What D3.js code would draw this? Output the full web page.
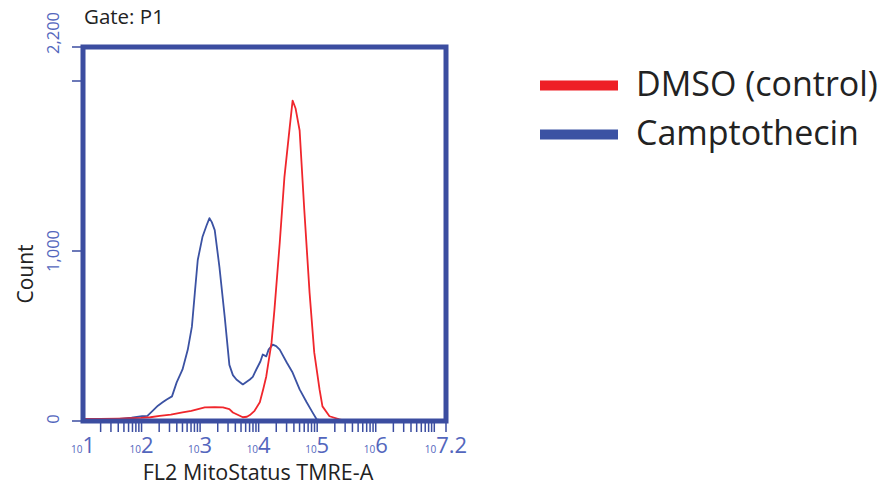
<!DOCTYPE html>
<html><head><meta charset="utf-8">
<script src="https://cdn.jsdelivr.net/npm/d3@7"></script>
<style>body{margin:0;background:#fff}svg{display:block}text{font-family:"Open Sans",sans-serif}</style>
</head><body>
<svg id="c" width="885" height="486"></svg>
<script>
// log10(FL2 MitoStatus TMRE-A) bin positions and counts
const dmsoLog = [1.00,1.29,1.60,1.99,2.15,2.31,2.50,2.70,2.85,3.08,3.25,3.39,3.50,3.56,3.65,3.73,3.80,3.85,3.93,4.02,4.08,4.13,4.22,4.27,4.36,4.44,4.53,4.58,4.63,4.70,4.78,4.87,4.95,5.04,5.09,5.21,5.38,5.45];
const dmsoCount = [12,12,14,18,22,30,38,51,60,80,82,80,70,50,35,22,25,35,60,110,190,262,461,655,1047,1433,1726,1885,1840,1709,1240,754,402,186,86,28,10,4];
const campLog = [1.00,1.50,1.83,2.01,2.10,2.18,2.28,2.36,2.43,2.52,2.60,2.70,2.79,2.86,2.91,2.96,3.04,3.11,3.16,3.20,3.25,3.33,3.42,3.50,3.56,3.62,3.73,3.85,3.90,3.96,4.03,4.07,4.13,4.17,4.24,4.30,4.36,4.48,4.58,4.70,4.82,4.92,4.99,5.12];
const campCount = [5,8,20,28,30,57,90,110,127,145,227,303,420,555,754,947,1082,1150,1193,1170,1123,907,614,330,270,244,215,244,260,303,350,391,380,420,449,440,420,344,285,186,110,51,10,0];
const yTicks = [0,1000,2000,2200];
const yLabels = [0,1000,2200];
const xDecades = [1,2,3,4,5,6];
const xEndExp = 7.2;
const seriesNames = ["DMSO (control)","Camptothecin"];
const seriesColors = ["#ee1f25","#3b52a3"];

const svg = d3.select("#c");
const L=83,R=446,T=47,B=421;
const x = d3.scaleLog().domain([10, Math.pow(10,xEndExp)]).range([L,R]);
const y = d3.scaleLinear().domain([0,2200]).range([B,T]);
const axisCol="#3b4da0", labCol="#5366bd";

// Gate label
svg.append("text").attr("x",84).attr("y",24).attr("font-size",20.5).attr("fill","#222").text("Gate: P1");

// curves
const line = d3.line().x(d=>x(Math.pow(10,d[0]))).y(d=>y(d[1]));
svg.append("clipPath").attr("id","cl").append("rect").attr("x",L).attr("y",T).attr("width",R-L).attr("height",B-T);
const g = svg.append("g").attr("clip-path","url(#cl)");
g.append("path").datum(campLog.map((v,i)=>[v,campCount[i]])).attr("d",line)
 .attr("fill","none").attr("stroke",seriesColors[1]).attr("stroke-width",1.8).attr("stroke-linejoin","round");
g.append("path").datum(dmsoLog.map((v,i)=>[v,dmsoCount[i]])).attr("d",line)
 .attr("fill","none").attr("stroke","#f0262c").attr("stroke-width",1.8).attr("stroke-linejoin","round");

// frame
svg.append("rect").attr("x",L).attr("y",T).attr("width",R-L).attr("height",B-T)
 .attr("fill","none").attr("stroke",axisCol).attr("stroke-width",5);

// y ticks
svg.selectAll(".yt").data(yTicks).join("line").attr("x1",L-11).attr("x2",L-2)
 .attr("y1",d=>y(d)).attr("y2",d=>y(d)).attr("stroke",axisCol).attr("stroke-width",1.5);
svg.selectAll(".yl").data(yLabels).join("text")
 .attr("transform",d=>{const yy = d===2200 ? 33 : (d===0 ? 419 : y(d)); return `translate(59,${yy}) rotate(-90)`;})
 .attr("text-anchor","middle").attr("font-size",16.5).attr("fill",labCol)
 .text(d=>d3.format(",")(d));

// x ticks (log minor + end)
const xt = x.ticks().filter(v=>v>10);
xt.push(Math.pow(10,xEndExp));
svg.selectAll(".xt").data(xt).join("line").attr("x1",d=>x(d)).attr("x2",d=>x(d))
 .attr("y1",B+2).attr("y2",B+11).attr("stroke",axisCol).attr("stroke-width",1.5);
const xl = svg.selectAll(".xl").data(xDecades.concat([xEndExp])).join("text")
 .attr("x",d=>x(Math.pow(10,d))).attr("y",453).attr("text-anchor","middle").attr("fill",labCol);
xl.append("tspan").attr("font-size",10).text("10");
xl.append("tspan").attr("font-size",22).text(d=>String(d));

// axis titles
svg.append("text").attr("x",258).attr("y",480).attr("text-anchor","middle").attr("font-size",21.5).attr("fill","#222").text("FL2 MitoStatus TMRE-A");
svg.append("text").attr("transform","translate(33,274) rotate(-90)").attr("text-anchor","middle").attr("font-size",21).attr("fill","#222").text("Count");

// legend
const lg = svg.selectAll(".lg").data(seriesNames).join("g").attr("transform",(d,i)=>`translate(0,${i*49})`);
lg.append("rect").attr("x",540).attr("y",80.5).attr("width",78).attr("height",10).attr("fill",(d,i)=>seriesColors[i]);
lg.append("text").attr("x",636).attr("y",95.5).attr("font-size",34).attr("fill","#222").text(d=>d);
</script>
</body></html>
